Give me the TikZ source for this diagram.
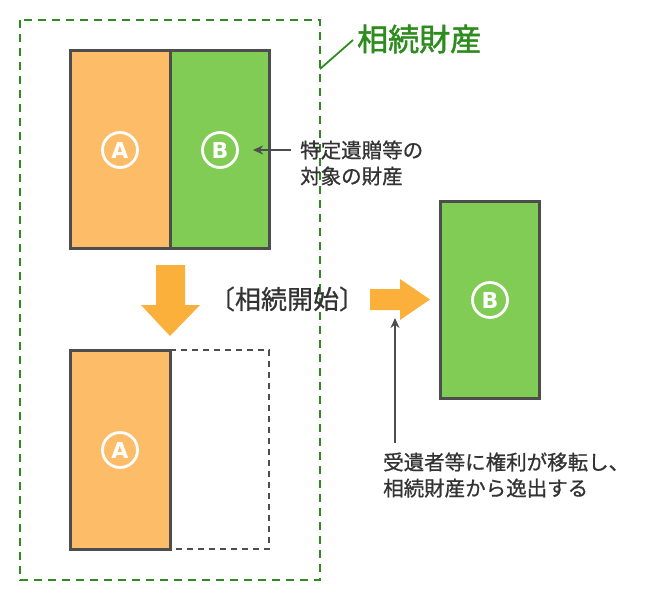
\documentclass[tikz,border=0pt]{standalone}
\usepackage{fontspec}
\newfontfamily\circfont{DejaVu Sans}
\newfontfamily\jp[FakeBold=0.8]{Noto Sans CJK JP}
\newfontfamily\jpt[FakeBold=1.6]{Noto Sans CJK JP}
\usetikzlibrary{arrows.meta}
\definecolor{orfill}{HTML}{FDBC68}
\definecolor{grfill}{HTML}{81CC54}
\definecolor{edge}{HTML}{4D4D4D}
\definecolor{blk}{HTML}{FBB03B}
\definecolor{dgreen}{HTML}{2E8B1E}
\definecolor{txt}{HTML}{333333}
\tikzset{
  part/.style={draw=edge, line width=3pt},
  emptypart/.style={draw=edge, line width=2.4pt, dash pattern=on 6pt off 5pt},
  circ/.style={circle, draw=white, line width=2.8pt, minimum size=35pt, inner sep=0pt, text=white, font=\circfont\bfseries\fontsize{22}{22}\selectfont},
  note/.style={anchor=west, inner sep=0pt, align=left, text=txt, font=\jp\fontsize{20.5}{26}\selectfont},
  pointer/.style={draw=edge, line width=2pt, -{Stealth[length=10pt,width=9pt]}},
  blockarrow/.style={fill=blk, draw=none}
}
\begin{document}
\begin{tikzpicture}[x=1pt,y=-1pt]
\useasboundingbox (0,0) rectangle (660,600);
% estate boundary
\draw[dgreen, line width=2.4pt, dash pattern=on 8pt off 6pt] (20,20) rectangle (320,580);
\node[anchor=west, inner sep=0pt, text=dgreen, font=\jpt\fontsize{31}{31}\selectfont] (title) at (357,39) {相続財産};
\coordinate (tl) at (320,69);
\draw[dgreen, line width=1.8pt] (tl) -- (353,40);
% top rectangles
\fill[orfill] (70,50) rectangle (170,248);
\fill[grfill] (170,50) rectangle (269,248);
\draw[part] (70,50) rectangle (269,248);
\draw[part] (170,50) -- (170,248);
\node[circ] (A1) at (120,150) {A};
\node[circ] (B1) at (220,150) {B};
\node[note] (n1) at (300,163) {特定遺贈等の\\対象の財産};
\coordinate (p1s) at (291,150);
\coordinate (p1e) at (253,150);
\draw[pointer] (p1s) -- (p1e);
% down arrow
\fill[blk] (156,265) -- (185,265) -- (185,305) -- (200,305) -- (170,336) -- (141,305) -- (156,305) -- cycle;
\node[inner sep=0pt, text=txt, font=\jp\fontsize{26}{26}\selectfont] (start) at (287,299) {〔相続開始〕};
% right arrow
\fill[blk] (370,289) -- (400,289) -- (400,279) -- (430,299.5) -- (400,320) -- (400,310) -- (370,310) -- cycle;
% right rectangle
\fill[grfill] (440,201) rectangle (539,398);
\draw[part] (440,201) rectangle (539,398);
\node[circ] (B2) at (490,300) {B};
% bottom rectangles
\fill[orfill] (70,350) rectangle (170,549);
\draw[emptypart] (170,350) -- (269,350) -- (269,549) -- (170,549);
\draw[part] (170,549) -- (70,549) -- (70,350) -- (170,350) -- cycle;
\node[circ] (A2) at (120,450) {A};
% note 2
\node[note] (n2) at (383,475) {受遺者等に権利が移転し、\\相続財産から逸出する};
\coordinate (p2s) at (395,443);
\coordinate (p2e) at (395,318);
\draw[pointer] (p2s) -- (p2e);
\end{tikzpicture}
\end{document}
